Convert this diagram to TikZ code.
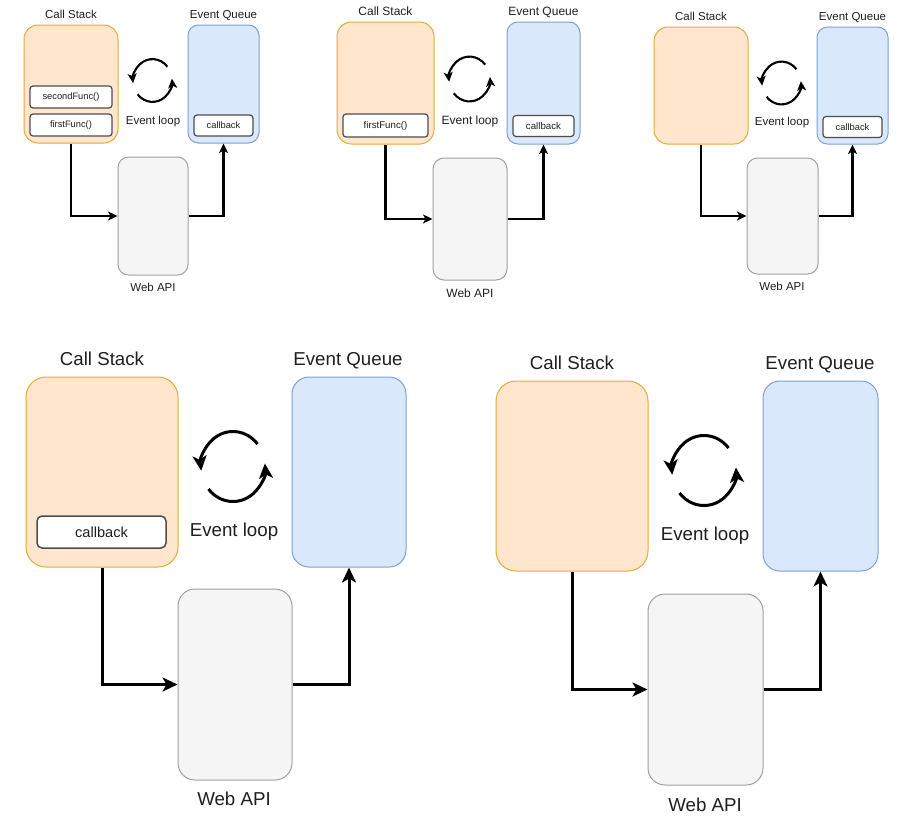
\documentclass[tikz,border=0pt]{standalone}
\usepackage{fontspec}
\setmainfont{Liberation Sans}
\usetikzlibrary{arrows.meta}
\definecolor{csfill}{HTML}{FFE6CC}
\definecolor{csdraw}{HTML}{E2AA3C}
\definecolor{eqfill}{HTML}{DAE8FC}
\definecolor{eqdraw}{HTML}{7F9FD0}
\definecolor{webfill}{HTML}{F5F5F5}
\definecolor{webdraw}{HTML}{A0A0A0}
\definecolor{fndraw}{HTML}{4D4D4D}
\definecolor{txt}{HTML}{1F1F1F}
\newcommand{\myfsa}{\fontsize{11.5pt}{13pt}\selectfont}
\newcommand{\myfsb}{\fontsize{12pt}{14pt}\selectfont}
\newcommand{\myfsc}{\fontsize{18.7pt}{22pt}\selectfont}
\newcommand{\myfsfa}{\fontsize{9.3pt}{11pt}\selectfont}
\newcommand{\myfsfb}{\fontsize{9.7pt}{11pt}\selectfont}
\newcommand{\myfsfc}{\fontsize{14.6pt}{17pt}\selectfont}
\begin{document}
\begin{tikzpicture}[x=1pt,y=-1pt,
  csbox/.style={draw=csdraw, fill=csfill, line width=1pt},
  eqbox/.style={draw=eqdraw, fill=eqfill, line width=1pt},
  webbox/.style={draw=webdraw, fill=webfill, line width=1pt},
  fnbox/.style={draw=fndraw, fill=white, line width=1.2pt, text=txt, inner sep=0pt},
  lbl/.style={anchor=base, text=txt, inner sep=0pt},
  connS/.style={line width=2.2pt, -{Stealth[length=9.5pt 0,width=9pt 0,inset=2.5pt 0]}},
  connL/.style={line width=3pt, -{Stealth[length=15pt 0,width=14pt 0,inset=4pt 0]}},
  loopS/.style={line width=2.1pt, -{Stealth[length=9.5pt 0,width=9pt 0,inset=2.5pt 0]}},
  loopL/.style={line width=3pt, -{Stealth[length=15pt 0,width=14pt 0,inset=4pt 0]}},
]
\useasboundingbox (0,0) rectangle (917,830);

% ---------------- Panel 1 ----------------
\node[csbox, minimum width=94pt, minimum height=118pt, rounded corners=14pt] (p1cs) at (71,84) {};
\node[eqbox, minimum width=71pt, minimum height=118pt, rounded corners=10.5pt] (p1eq) at (223.5,84) {};
\node[webbox, minimum width=70pt, minimum height=118pt, rounded corners=10.5pt] (p1web) at (153,216) {};
\node[fnbox, minimum width=82pt, minimum height=22pt, rounded corners=3pt, font=\myfsfa] (p1f2) at (71,97) {secondFunc()};
\node[fnbox, minimum width=82pt, minimum height=22pt, rounded corners=3pt, font=\myfsfa] (p1f1) at (71,125) {firstFunc()};
\node[fnbox, minimum width=59pt, minimum height=21pt, rounded corners=3pt, font=\myfsfa] (p1cb) at (223.5,125.5) {callback};
\node[lbl, font=\myfsa] (p1lcs) at (71,18.5) {Call Stack};
\node[lbl, font=\myfsa] (p1leq) at (223.5,18.5) {Event Queue};
\node[lbl, font=\myfsa] (p1lel) at (153,124) {Event loop};
\node[lbl, font=\myfsa] (p1lweb) at (153,291) {Web API};
\coordinate (p1loop) at (152.5,80.5);
\draw[loopS] (p1loop) ++(-40:19.5 and 21.4) arc[start angle=-40, end angle=-187, x radius=19.5, y radius=21.4];
\draw[loopS] (p1loop) ++(140:19.5 and 21.4) arc[start angle=140, end angle=-5, x radius=19.5, y radius=21.4];
\draw[connS] (p1cs.south) |- (p1web.west);
\draw[connS] (p1web.east) -| (p1eq.south);

% ---------------- Panel 2 ----------------
\node[csbox, minimum width=97pt, minimum height=122pt, rounded corners=14.5pt] (p2cs) at (385.5,83) {};
\node[eqbox, minimum width=73pt, minimum height=122pt, rounded corners=11pt] (p2eq) at (543.5,83) {};
\node[webbox, minimum width=74pt, minimum height=122pt, rounded corners=11pt] (p2web) at (470,219) {};
\node[fnbox, minimum width=85pt, minimum height=23pt, rounded corners=3pt, font=\myfsfb] (p2f1) at (385.5,125.5) {firstFunc()};
\node[fnbox, minimum width=61pt, minimum height=21pt, rounded corners=3pt, font=\myfsfb] (p2cb) at (543.5,126) {callback};
\node[lbl, font=\myfsb] (p2lcs) at (385.5,15.5) {Call Stack};
\node[lbl, font=\myfsb] (p2leq) at (543.5,15.5) {Event Queue};
\node[lbl, font=\myfsb] (p2lel) at (470,124) {Event loop};
\node[lbl, font=\myfsb] (p2lweb) at (470,297.5) {Web API};
\coordinate (p2loop) at (469.5,79);
\draw[loopS] (p2loop) ++(-40:20.5 and 22.4) arc[start angle=-40, end angle=-187, x radius=20.5, y radius=22.4];
\draw[loopS] (p2loop) ++(140:20.5 and 22.4) arc[start angle=140, end angle=-5, x radius=20.5, y radius=22.4];
\draw[connS] (p2cs.south) |- (p2web.west);
\draw[connS] (p2web.east) -| (p2eq.south);

% ---------------- Panel 3 ----------------
\node[csbox, minimum width=94pt, minimum height=117pt, rounded corners=14pt] (p3cs) at (701,85.5) {};
\node[eqbox, minimum width=71pt, minimum height=117pt, rounded corners=10.5pt] (p3eq) at (852.5,85.5) {};
\node[webbox, minimum width=71pt, minimum height=116pt, rounded corners=10.5pt] (p3web) at (782.5,216) {};
\node[fnbox, minimum width=59pt, minimum height=21pt, rounded corners=3pt, font=\myfsfa] (p3cb) at (852.5,127) {callback};
\node[lbl, font=\myfsa] (p3lcs) at (701,20.7) {Call Stack};
\node[lbl, font=\myfsa] (p3leq) at (852.5,20.7) {Event Queue};
\node[lbl, font=\myfsa] (p3lel) at (782,125) {Event loop};
\node[lbl, font=\myfsa] (p3lweb) at (782,290) {Web API};
\coordinate (p3loop) at (781.5,83);
\draw[loopS] (p3loop) ++(-40:19.5 and 21.4) arc[start angle=-40, end angle=-187, x radius=19.5, y radius=21.4];
\draw[loopS] (p3loop) ++(140:19.5 and 21.4) arc[start angle=140, end angle=-5, x radius=19.5, y radius=21.4];
\draw[connS] (p3cs.south) |- (p3web.west);
\draw[connS] (p3web.east) -| (p3eq.south);

% ---------------- Panel 4 ----------------
\node[csbox, minimum width=152pt, minimum height=190pt, rounded corners=20pt] (p4cs) at (102,472) {};
\node[eqbox, minimum width=114pt, minimum height=190pt, rounded corners=17pt] (p4eq) at (349,472) {};
\node[webbox, minimum width=114pt, minimum height=191pt, rounded corners=17pt] (p4web) at (235,684.5) {};
\node[fnbox, minimum width=129pt, minimum height=32pt, rounded corners=5pt, line width=1.5pt, font=\myfsfc] (p4cb) at (101.5,532) {callback};
\node[lbl, font=\myfsc] (p4lcs) at (102,365) {Call Stack};
\node[lbl, font=\myfsc] (p4leq) at (348,365) {Event Queue};
\node[lbl, font=\myfsc] (p4lel) at (234,536.7) {Event loop};
\node[lbl, font=\myfsc] (p4lweb) at (234,805.7) {Web API};
\coordinate (p4loop) at (233,466.5);
\draw[loopL] (p4loop) ++(-40:32 and 35) arc[start angle=-40, end angle=-187, x radius=32, y radius=35];
\draw[loopL] (p4loop) ++(140:32 and 35) arc[start angle=140, end angle=-5, x radius=32, y radius=35];
\draw[connL] (p4cs.south) |- (p4web.west);
\draw[connL] (p4web.east) -| (p4eq.south);

% ---------------- Panel 5 ----------------
\node[csbox, minimum width=152pt, minimum height=190pt, rounded corners=20pt] (p5cs) at (572,476) {};
\node[eqbox, minimum width=115pt, minimum height=190pt, rounded corners=17pt] (p5eq) at (820.5,476) {};
\node[webbox, minimum width=115pt, minimum height=191pt, rounded corners=17pt] (p5web) at (705.5,689.5) {};
\node[lbl, font=\myfsc] (p5lcs) at (572,369.3) {Call Stack};
\node[lbl, font=\myfsc] (p5leq) at (820,369.3) {Event Queue};
\node[lbl, font=\myfsc] (p5lel) at (705,540.7) {Event loop};
\node[lbl, font=\myfsc] (p5lweb) at (705,811.7) {Web API};
\coordinate (p5loop) at (704,470.5);
\draw[loopL] (p5loop) ++(-40:32 and 35) arc[start angle=-40, end angle=-187, x radius=32, y radius=35];
\draw[loopL] (p5loop) ++(140:32 and 35) arc[start angle=140, end angle=-5, x radius=32, y radius=35];
\draw[connL] (p5cs.south) |- (p5web.west);
\draw[connL] (p5web.east) -| (p5eq.south);
\end{tikzpicture}
\end{document}
